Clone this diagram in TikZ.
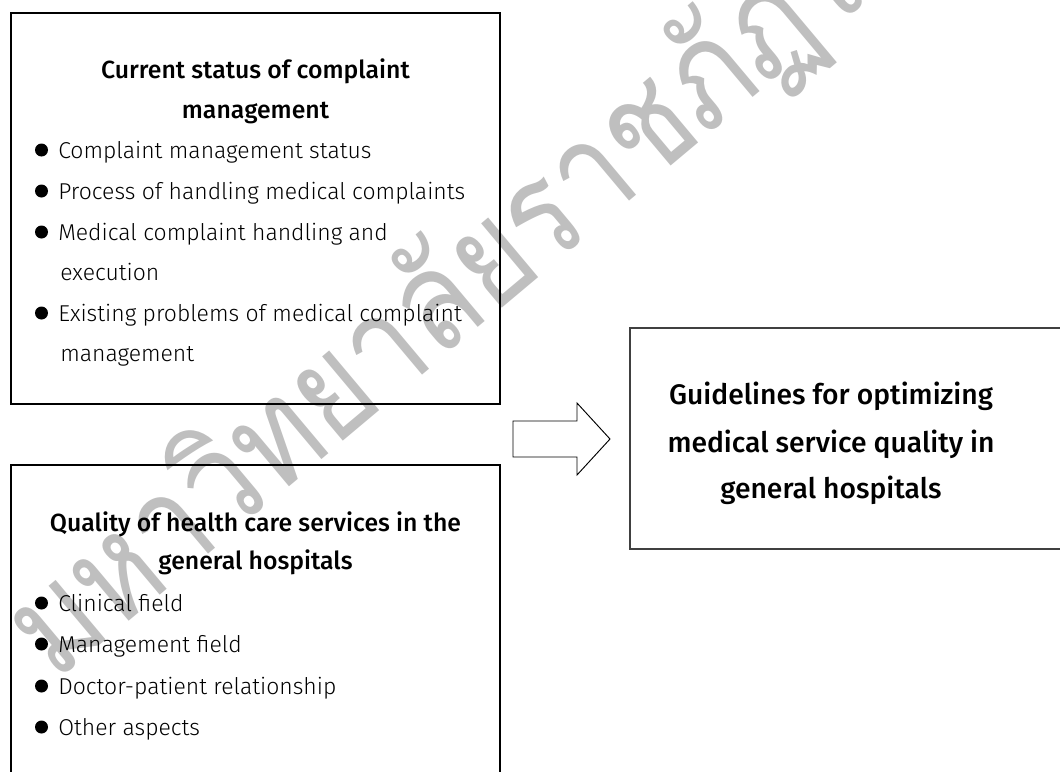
\documentclass[tikz,border=0pt]{standalone}
\usepackage{fontspec}
\setmainfont{Fira Sans}[BoldFont={Fira Sans Medium}]
\newfontfamily\lightfont{Fira Sans Light}
\newfontfamily\thaifont[Script=Thai]{Loma}
\usetikzlibrary{fit}
\begin{document}
\begin{tikzpicture}[x=0.75pt,y=-0.75pt,
  box/.style={draw=black, line width=1pt, inner sep=0pt},
  outbox/.style={draw=black!75, line width=1.3pt, inner sep=0pt},
  ttl/.style={font=\bfseries\fontsize{18.6}{22}\selectfont, anchor=base, inner sep=0pt},
  itm/.style={font=\lightfont\fontsize{17.2}{20}\selectfont, anchor=base west, inner sep=0pt},
  res/.style={font=\bfseries\fontsize{21.2}{24}\selectfont, anchor=base, inner sep=0pt},
  dot/.style={circle, fill=black, inner sep=0pt, minimum size=9.75pt},
  wm/.style={font=\thaifont\fontsize{105}{110}\selectfont, text=black!25, rotate=40, anchor=base west, inner sep=0pt},
  blockarrow/.style={draw=black, line width=0.7pt, fill=white}
]
\useasboundingbox (0,0) rectangle (1060,771);
\clip (0,0) rectangle (1060,771);
% watermark
\node[wm] (wmk) at (55,683) {\scalebox{0.84}[1]{มหาวิทยาลัยราชภัฏไ}};
% boxes
\node[box, fit={(11,13) (500,404)}] (b1) {};
\node[box, fit={(11,465) (500,800)}] (b2) {};
\node[outbox, fit={(630,328) (1080,549)}] (b3) {};
% block arrow
\draw[blockarrow] (513,421) -- (577,421) -- (577,403) -- (610,439) -- (577,475) -- (577,457) -- (513,457) -- cycle;
% box 1
\node[ttl] (h1a) at (255.5,78) {Current status of complaint};
\node[ttl] (h1b) at (255.5,118) {management};
\foreach \y/\t [count=\i] in {158/Complaint management status, 199/Process of handling medical complaints, 240/Medical complaint handling and, 321/Existing problems of medical complaint}
{
  \node[dot] (d1-\i) at (41.5,\y-8) {};
  \node[itm] (t1-\i) at (58,\y) {\t};
}
\node[itm] (c1a) at (60,280) {execution};
\node[itm] (c1b) at (60,361) {management};
% box 2
\node[ttl] (h2a) at (255.5,531) {Quality of health care services in the};
\node[ttl] (h2b) at (255.5,569) {general hospitals};
\foreach \y/\t [count=\i] in {611/Clinical field, 652/Management field, 694/Doctor-patient relationship, 735/Other aspects}
{
  \node[dot] (d2-\i) at (41.5,\y-8) {};
  \node[itm] (t2-\i) at (58,\y) {\t};
}
% box 3
\node[res] (r1) at (831,404) {Guidelines for optimizing};
\node[res] (r2) at (831,452) {medical service quality in};
\node[res] (r3) at (831,498) {general hospitals};
\end{tikzpicture}
\end{document}
